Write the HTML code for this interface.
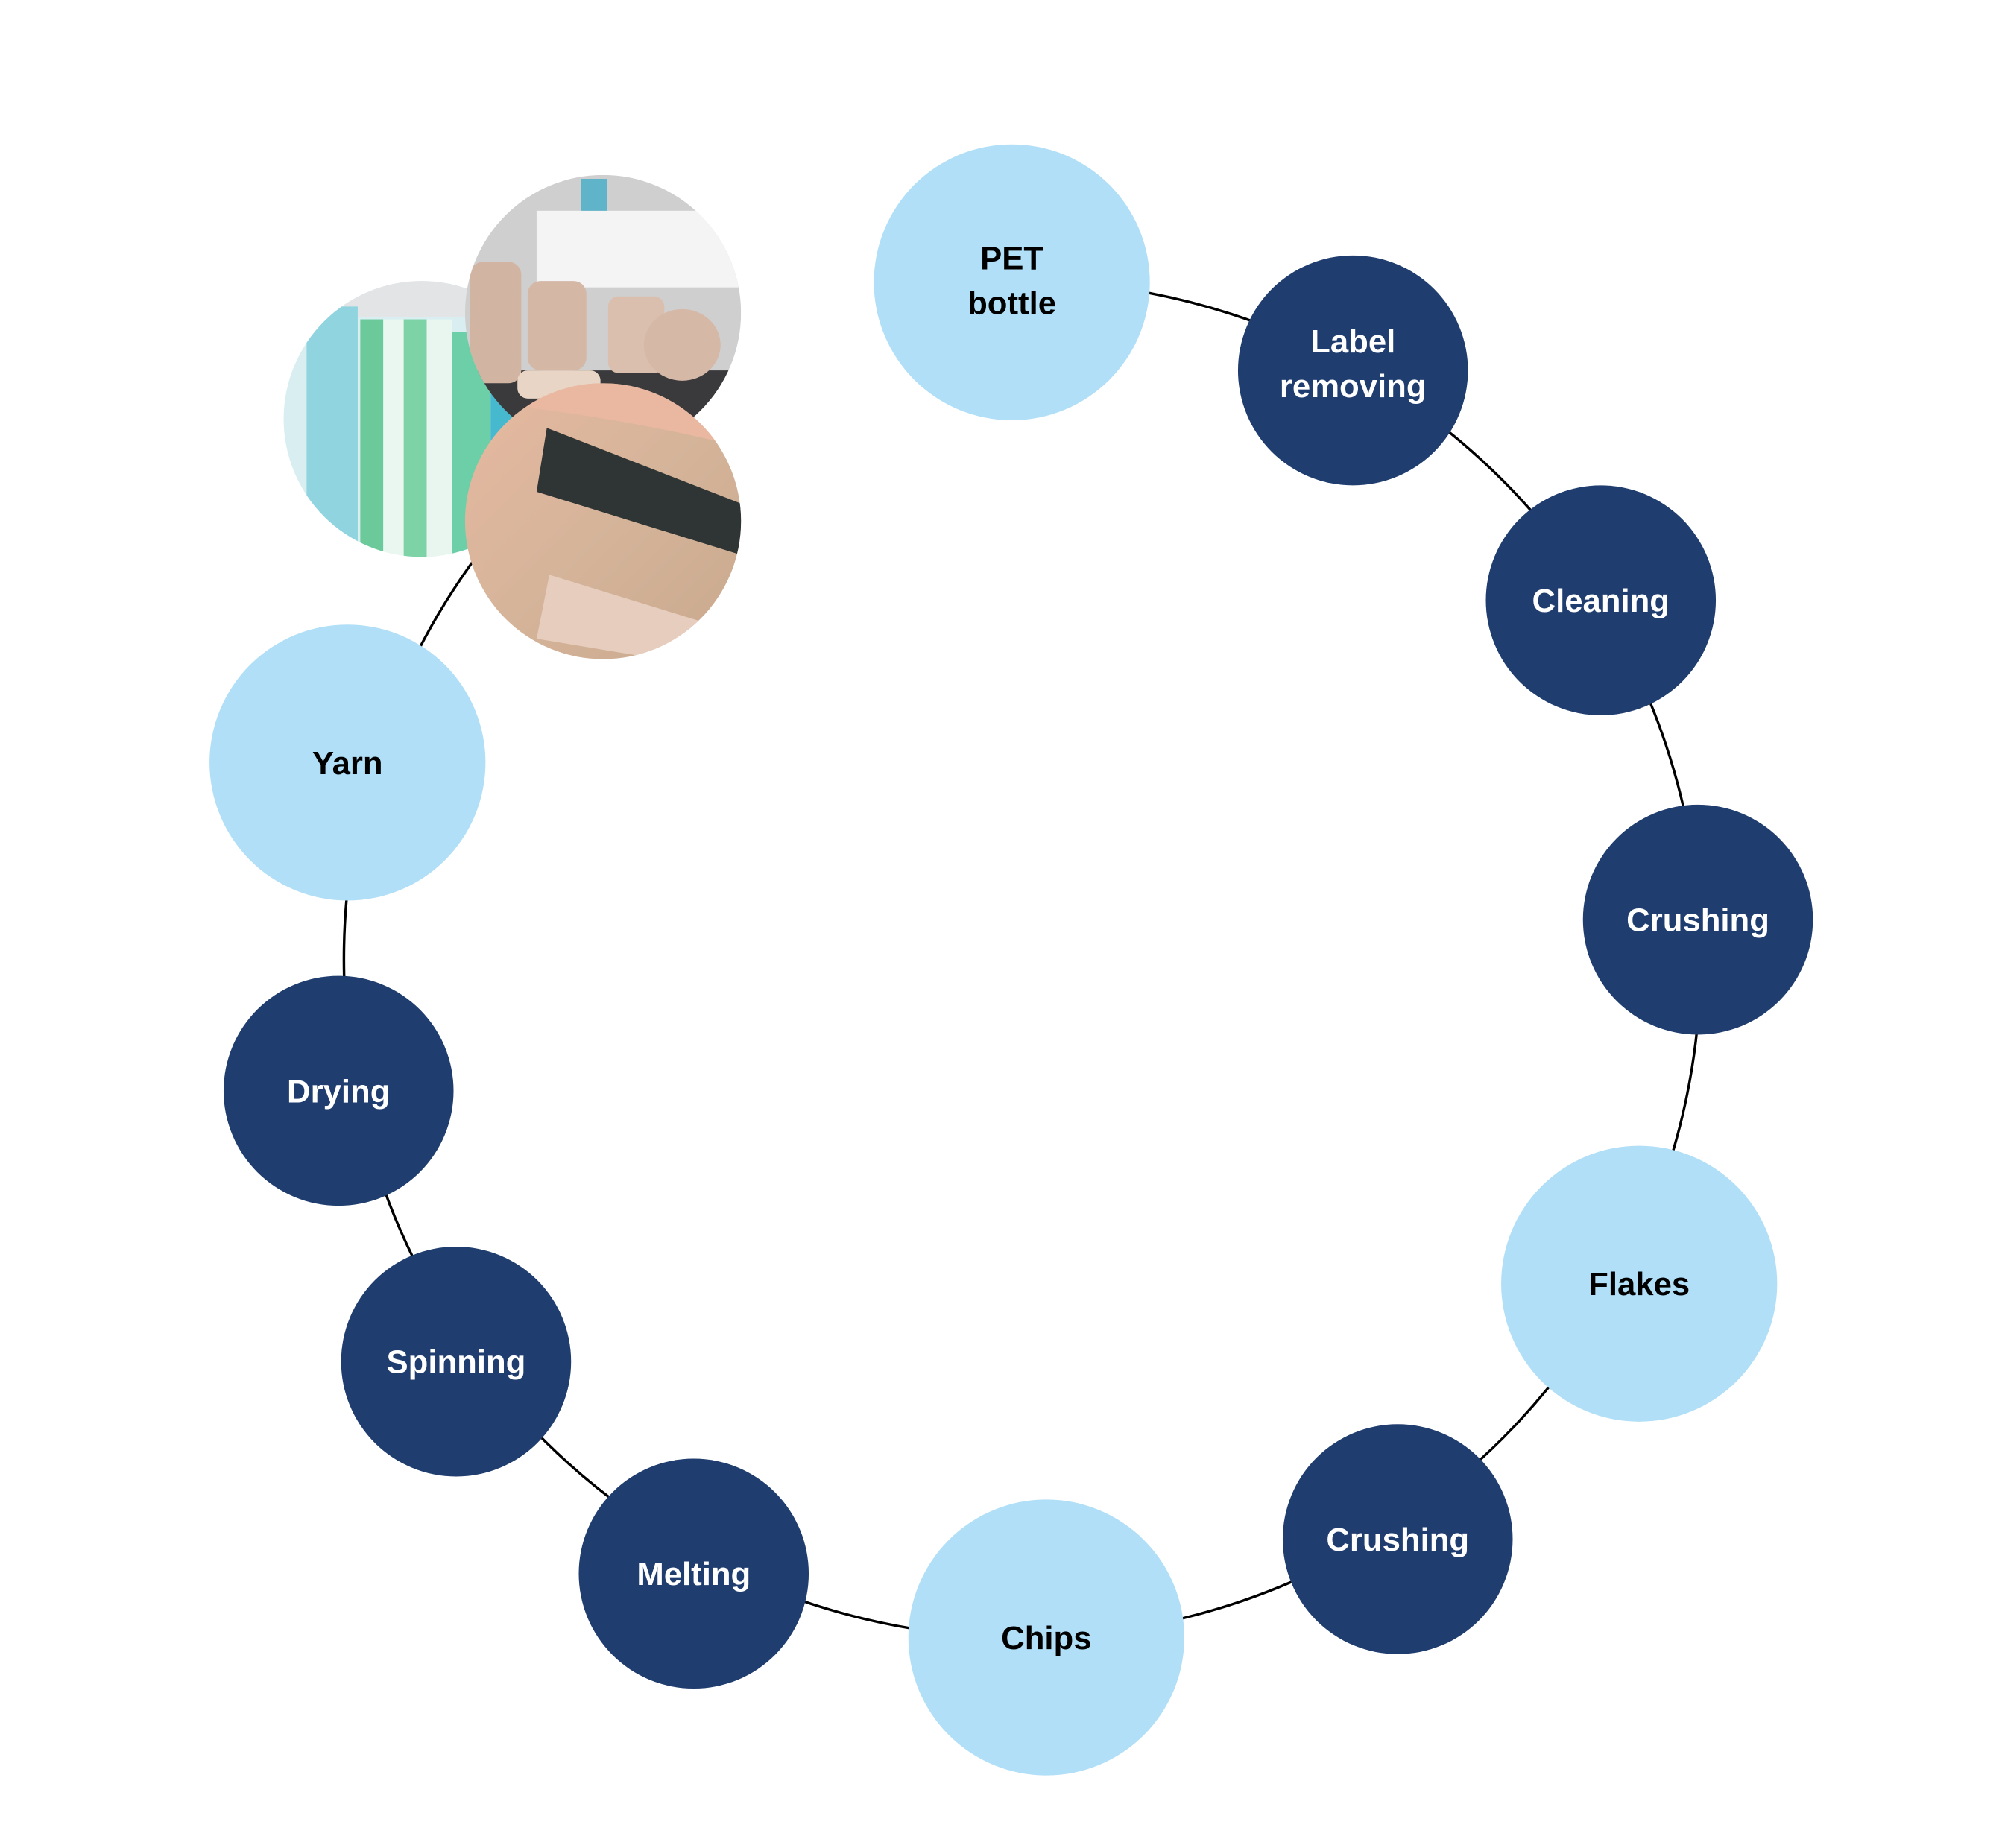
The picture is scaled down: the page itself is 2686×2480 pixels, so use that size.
<!DOCTYPE html>
<html><head><meta charset="utf-8"><style>
html,body{margin:0;padding:0;background:#fff}
svg{display:block}
text{font-family:"Liberation Sans","DejaVu Sans",sans-serif;font-weight:bold;font-size:25.5px;text-anchor:middle}
.d{fill:#1f3d6e}.l{fill:#b0dff7}
.tw{fill:#fff}.tb{fill:#000}
</style></head><body>
<svg width="2686" height="2480" viewBox="0 0 1567 1446.8" xmlns="http://www.w3.org/2000/svg">
<defs>
<clipPath id="c1"><circle cx="330" cy="328" r="108"/></clipPath>
<clipPath id="c2"><circle cx="472" cy="245" r="108"/></clipPath>
<clipPath id="c3"><circle cx="472" cy="408" r="108"/></clipPath>
<linearGradient id="g3" x1="0" y1="0" x2="1" y2="1"><stop offset="0" stop-color="#e7b9a0"/><stop offset="0.5" stop-color="#d5b49a"/><stop offset="1" stop-color="#c9a98e"/></linearGradient>
</defs>
<path d="M791.7 220.1 A531 531 0 1 1 372 437" fill="none" stroke="#000" stroke-width="2"/>
<g clip-path="url(#c1)">
<rect x="220" y="218" width="220" height="220" fill="#d9eef0"/>
<rect x="220" y="218" width="220" height="30" fill="#e2e4e6"/>
<rect x="240" y="240" width="40" height="200" fill="#8fd4df"/>
<rect x="282" y="250" width="18" height="190" fill="#6cc99a"/>
<rect x="300" y="250" width="16" height="190" fill="#eaf7f1"/>
<rect x="316" y="250" width="18" height="190" fill="#7dd3a5"/>
<rect x="334" y="250" width="20" height="190" fill="#e9f6f0"/>
<rect x="354" y="260" width="30" height="180" fill="#6ccfa8"/>
<rect x="384" y="260" width="40" height="180" fill="#47b9cf"/>
</g>
<g clip-path="url(#c2)">
<rect x="364" y="137" width="216" height="216" fill="#cfcfd0"/>
<rect x="420" y="165" width="160" height="60" fill="#f4f4f4"/>
<rect x="455" y="140" width="20" height="25" fill="#5fb4c9"/>
<rect x="364" y="290" width="216" height="70" fill="#3a3a3c"/>
<rect x="368" y="205" width="40" height="95" rx="10" fill="#d2b4a3"/>
<rect x="413" y="220" width="46" height="70" rx="10" fill="#d5b7a6"/>
<rect x="476" y="232" width="44" height="60" rx="8" fill="#dbbfae"/>
<ellipse cx="534" cy="270" rx="30" ry="28" fill="#d6b8a7"/>
<rect x="405" y="290" width="65" height="22" rx="8" fill="#e8d5c5"/>
</g>
<g clip-path="url(#c3)">
<rect x="364" y="300" width="216" height="216" fill="url(#g3)"/>
<path d="M360 300 L580 300 L580 350 Q500 330 420 320 Z" fill="#eab8a0"/>
<path d="M428 335 L582 395 L582 435 L420 385 Z" fill="#2f3534"/>
<path d="M430 450 L560 490 L540 520 L420 500 Z" fill="#e6cdbd"/>
</g>
<circle class="l" cx="792" cy="221" r="108"/>
<text class="tb" x="792" y="211">PET</text><text class="tb" x="792" y="246">bottle</text>
<circle class="d" cx="1059" cy="290" r="90"/>
<text class="tw" x="1059" y="276">Label</text><text class="tw" x="1059" y="311">removing</text>
<circle class="d" cx="1253" cy="470" r="90"/>
<text class="tw" x="1253" y="479">Cleaning</text>
<circle class="d" cx="1329" cy="720" r="90"/>
<text class="tw" x="1329" y="729">Crushing</text>
<circle class="l" cx="1283" cy="1005" r="108"/>
<text class="tb" x="1283" y="1014">Flakes</text>
<circle class="d" cx="1094" cy="1205" r="90"/>
<text class="tw" x="1094" y="1214">Crushing</text>
<circle class="l" cx="819" cy="1282" r="108"/>
<text class="tb" x="819" y="1291">Chips</text>
<circle class="d" cx="543" cy="1232" r="90"/>
<text class="tw" x="543" y="1241">Melting</text>
<circle class="d" cx="357" cy="1066" r="90"/>
<text class="tw" x="357" y="1075">Spinning</text>
<circle class="d" cx="265" cy="854" r="90"/>
<text class="tw" x="265" y="863">Drying</text>
<circle class="l" cx="272" cy="597" r="108"/>
<text class="tb" x="272" y="606">Yarn</text>
</svg>
</body></html>
